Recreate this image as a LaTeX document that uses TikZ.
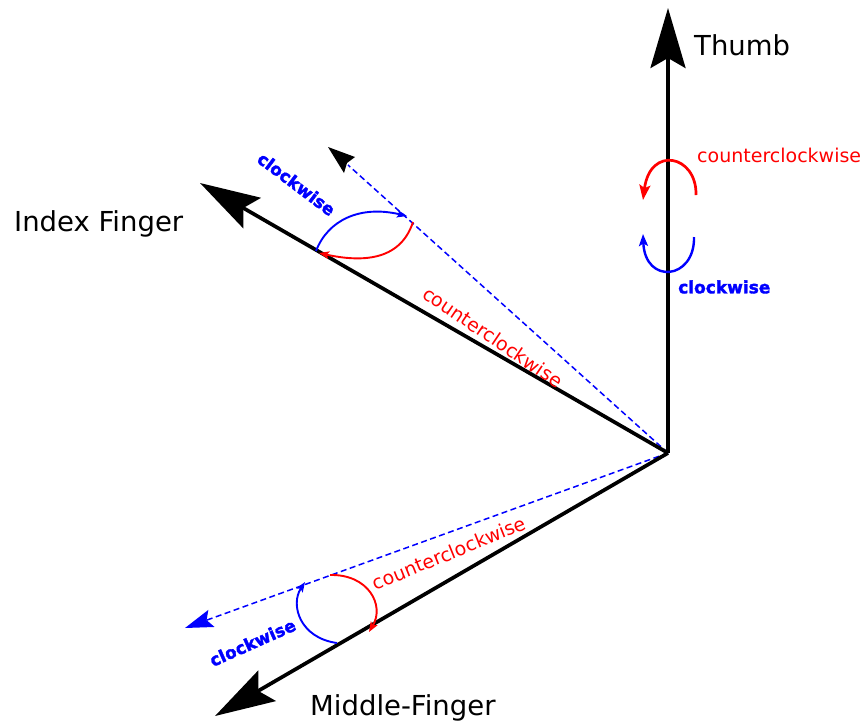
\documentclass[tikz,border=0pt]{standalone}
\usepackage{fontspec}
\setmainfont{DejaVu Sans}
\newfontfamily\cwfont[FakeBold=2]{DejaVu Sans Bold}
\usetikzlibrary{arrows.meta}
\tikzset{
  finger/.style={line width=3.7pt, black, -{Stealth[length=60pt,width=35pt,inset=10pt]}},
  guide/.style={line width=1.5pt, blue, dash pattern=on 6pt off 3.5pt},
  ccw/.style={red, line width=2.4pt},
  cw/.style={blue, line width=2.4pt},
  smalltip/.style={-{Stealth[length=10pt,width=7.5pt,inset=2pt]}},
  bigname/.style={inner sep=0pt, font=\fontsize{27.5}{33}\selectfont},
  redlab/.style={inner sep=0pt, red, font=\fontsize{19}{23}\selectfont},
  bluelab/.style={inner sep=0pt, blue, font=\fontsize{17}{20}\cwfont},
}
\begin{document}
\begin{tikzpicture}[x=1pt,y=-1pt]
\useasboundingbox (0,0) rectangle (865,724);
% origin and tips
\coordinate (O) at (668,453);
\coordinate (thumbtip) at (668,8);
\coordinate (indextip) at (200,183);
\coordinate (middletip) at (215,716);
\coordinate (uppertip) at (328,147);
\coordinate (lowertip) at (185,628);
% dashed guides
\draw[guide] (O) -- (348,165);
\fill[black] (uppertip) -- (355,157) -- (347,163) -- (344,173) -- cycle;
\draw[guide, -{Stealth[length=28pt,width=18pt,inset=5pt]}] (O) -- (lowertip);
% finger axes
\draw[finger] (O) -- (thumbtip);
\draw[finger] (O) -- (indextip);
\draw[finger] (O) -- (middletip);
% index finger arcs
\coordinate (ia1) at (316,251);
\coordinate (ia2) at (407,216);
\coordinate (ib1) at (413,222);
\coordinate (ib2) at (319,253);
\draw[cw, line width=1.9pt, smalltip] (ia1) .. controls (328,220) and (360,205) .. (ia2);
\draw[ccw, line width=1.9pt, smalltip] (ib1) .. controls (400,262) and (360,262) .. (ib2);
% middle finger arcs
\coordinate (ma1) at (337,643);
\coordinate (ma2) at (305,582);
\coordinate (mb1) at (330,575);
\coordinate (mb2) at (369,632);
\draw[cw, line width=1.9pt, smalltip] (ma1) .. controls (300,638) and (290,605) .. (ma2);
\draw[ccw, line width=1.9pt, smalltip] (mb1) .. controls (368,574) and (385,605) .. (mb2);
% thumb arcs
\coordinate (ta1) at (696,195);
\coordinate (ta2) at (643,200);
\coordinate (tb1) at (694,237);
\coordinate (tb2) at (643,234);
\draw[ccw, line width=2.7pt, -{Stealth[length=15pt,width=11pt,inset=3pt]}] (ta1) .. controls (697,155) and (650,145) .. (ta2);
\draw[cw, -{Stealth[length=12pt,width=9pt,inset=2.5pt]}] (tb1) .. controls (695,280) and (645,285) .. (tb2);
% labels
\node[bigname, anchor=base west] (lthumb) at (694,55) {Thumb};
\node[bigname, anchor=base west] (lindex) at (14,231.7) {Index Finger};
\node[bigname, anchor=base west] (lmiddle) at (310,715) {Middle-Finger};
\node[redlab, anchor=base west] (lccw1) at (697,162.7) {counterclockwise};
\node[bluelab, anchor=base west] (lcw1) at (678,293.3) {clockwise};
\node[bluelab, rotate=-37] (lcw2) at (296.5,184) {clockwise};
\node[redlab, rotate=-34] (lccw2) at (493,337) {counterclockwise};
\node[redlab, rotate=22] (lccw3) at (449,553) {counterclockwise};
\node[bluelab, rotate=24] (lcw3) at (252.5,642.5) {clockwise};
\end{tikzpicture}
\end{document}
